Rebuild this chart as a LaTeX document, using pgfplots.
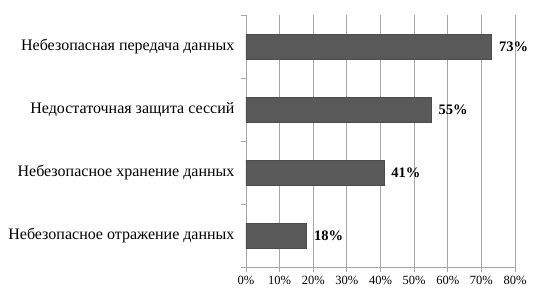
\documentclass[border=0pt]{standalone}
\usepackage{pgfplots}
\pgfplotsset{compat=1.18}
\usepackage{fontspec}
\setmainfont{Liberation Serif}
\definecolor{barc}{HTML}{595959}
\definecolor{gridc}{HTML}{A6A6A6}
\begin{document}
\begin{tikzpicture}
\useasboundingbox (-246pt,-32pt) rectangle (297pt,267pt);
\begin{axis}[
  at={(0,0)}, anchor=south west,
  scale only axis, width=269pt, height=252pt,
  xbar, bar width=25pt,
  xmin=0, xmax=80, ymin=-0.5, ymax=3.5,
  y dir=reverse,
  axis x line=bottom, axis y line=left,
  axis line style={draw=gridc, line width=0.8pt, -},
  xtick={0,10,...,80},
  xticklabels={0\%,10\%,20\%,30\%,40\%,50\%,60\%,70\%,80\%},
  ytick={-0.5,0.5,1.5,2.5,3.5},
  y tick label as interval,
  yticklabels={Небезопасная передача данных,Недостаточная защита сессий,Небезопасное хранение данных,Небезопасное отражение данных},
  tick align=outside, major tick length=5pt,
  tick style={draw=gridc, line width=0.8pt},
  xmajorgrids, major x grid style={draw=gridc, line width=0.8pt},
  /pgf/number format/assume math mode=true,
  xticklabel style={font=\fontsize{12.5}{14}\selectfont, yshift=-1pt},
  yticklabel style={font=\fontsize{16}{18}\selectfont, xshift=-3pt},
  nodes near coords={\pgfmathprintnumber{\pgfplotspointmeta}\%},
  nodes near coords align=horizontal,
  every node near coord/.append style={font=\bfseries\fontsize{14.5}{16}\selectfont, xshift=4pt},
  point meta=explicit,
]
\addplot[fill=barc, draw=black!70, line width=0.6pt] table[meta index=2] {
x y m
73 0 73
55 1 55
41 2 41
18 3 18
};
\end{axis}
\end{tikzpicture}
\end{document}
